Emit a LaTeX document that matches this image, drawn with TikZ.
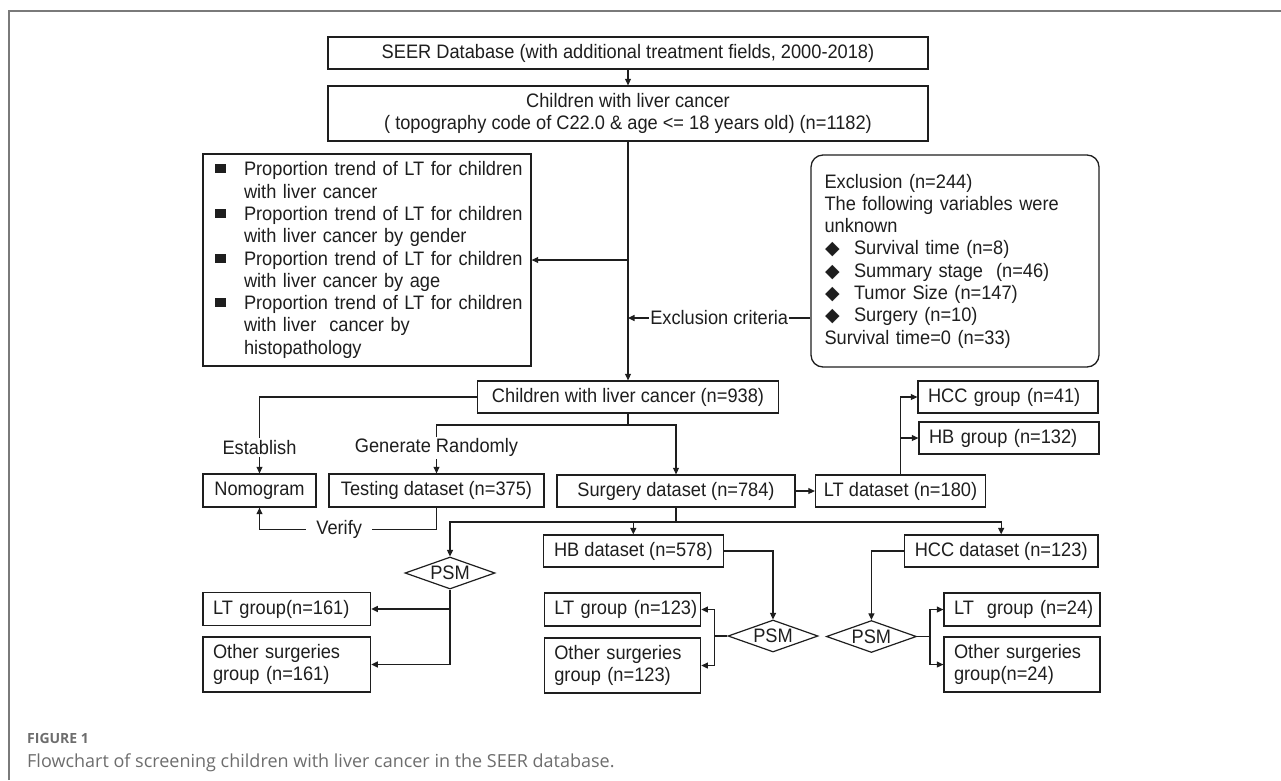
\documentclass[tikz,border=0pt]{standalone}
\usepackage{fontspec}
\setmainfont{Liberation Sans}[FakeStretch=0.935]
\newfontfamily\capfont{Open Sans}
\newfontfamily\djv{DejaVu Sans}
\usetikzlibrary{shapes.geometric,arrows.meta}
\definecolor{capgray}{HTML}{6D6D6D}
\definecolor{framegray}{HTML}{7A7A7A}
\definecolor{ink}{HTML}{1E1E1E}
\newcommand\bsq{\makebox[29pt][l]{\raisebox{2.5pt}{\rule{10.5pt}{9pt}}}}
\newcommand\ind{\hspace*{29pt}}
\newcommand\dia{\makebox[29.5pt][l]{\hspace{0.5pt}{\djv\fontsize{19}{19}\selectfont ◆}}}
\begin{document}
\begin{tikzpicture}[x=1pt,y=-1pt,
  every node/.style={font=\fontsize{19.5}{22.3}\selectfont, text=ink},
  box/.style={draw=ink, line width=1.3pt, inner sep=0pt, minimum height=32pt},
  lbox/.style={box, align=left, inner xsep=10pt, inner ysep=0pt},
  psm/.style={draw=ink, line width=1.2pt, diamond, shape aspect=2.8, minimum width=90pt, minimum height=32pt, inner sep=0pt},
  ln/.style={draw=ink, line width=1.1pt},
  arr/.style={draw=ink, line width=1.1pt, -{Triangle[length=6.5pt,width=6pt]}},
  lab/.style={fill=white, inner ysep=2pt, inner xsep=1pt}]
\useasboundingbox (0,0) rectangle (1281,780);
\draw[framegray, line width=1.2pt] (9,780) -- (9,11) -- (1281,11);

% boxes
\node[box, minimum width=600pt] (seer) at (628,53) {SEER Database (with additional treatment fields, 2000-2018)};
\node[box, minimum width=600pt, minimum height=55pt, align=center] (child) at (628,113.5) {Children with liver cancer\\( topography code of C22.0 \& age <= 18 years old) (n=1182)};
\node[box, minimum height=212pt, text width=304pt, inner xsep=12pt, align=left] (blt) at (367,260) {%
\mbox{\bsq Proportion trend of LT for children}\\
\mbox{\ind with liver cancer}\\
\mbox{\bsq Proportion trend of LT for children}\\
\mbox{\ind with liver cancer by gender}\\
\mbox{\bsq Proportion trend of LT for children}\\
\mbox{\ind with liver cancer by age}\\
\mbox{\bsq Proportion trend of LT for children}\\
\mbox{\ind with liver\ \ cancer by}\\
\mbox{\ind histopathology}};
\node[box, rounded corners=12pt, minimum height=212pt, text width=261pt, inner xsep=13.5pt, align=left] (excl) at (955,261) {%
\mbox{Exclusion (n=244)}\\
\mbox{The following variables were}\\
\mbox{unknown}\\
\mbox{\dia Survival time (n=8)}\\
\mbox{\dia Summary stage\ \ (n=46)}\\
\mbox{\dia Tumor Size (n=147)}\\
\mbox{\dia Surgery (n=10)}\\
\mbox{Survival time=0 (n=33)}};
\node[box, minimum width=301pt] (c938) at (628,397) {Children with liver cancer (n=938)};
\node[lbox, text width=160pt] (hccg) at (1008,397) {\mbox{HCC group (n=41)}};
\node[lbox, text width=160pt] (hbg) at (1009,438) {\mbox{HB group (n=132)}};
\node[box, minimum width=113pt, minimum height=33pt] (nomo) at (259.5,490.5) {Nomogram};
\node[box, minimum width=215pt, minimum height=33pt] (test) at (436.5,490.5) {Testing dataset (n=375)};
\node[box, minimum width=238pt] (surg) at (676,491) {Surgery dataset (n=784)};
\node[box, minimum width=170pt] (ltd) at (900.5,491) {LT dataset (n=180)};
\node[box, minimum width=180pt] (hbd) at (633.3,551) {HB dataset (n=578)};
\node[box, minimum width=193.5pt] (hccd) at (1001.2,551) {HCC dataset (n=123)};
\node[psm] (psm1) at (450,573) {PSM};
\node[psm] (psm2) at (773,636) {PSM};
\node[psm] (psm3) at (871.4,636.5) {PSM};
\node[lbox, text width=147.6pt, minimum height=33pt] (lt161) at (286.8,609) {\mbox{LT group(n=161)}};
\node[lbox, text width=147.6pt, minimum height=55pt] (ot161) at (286.8,664.5) {\mbox{Other surgeries}\\\mbox{group (n=161)}};
\node[lbox, text width=136.4pt, minimum height=33pt] (lt123) at (622.5,609.5) {\mbox{LT group (n=123)}};
\node[lbox, text width=136.4pt, minimum height=55pt] (ot123) at (622.5,665.5) {\mbox{Other surgeries}\\\mbox{group (n=123)}};
\node[lbox, text width=136pt, minimum height=33pt] (lt24) at (1022,609.5) {\mbox{LT\ \ group (n=24)}};
\node[lbox, text width=136pt, minimum height=55pt] (ot24) at (1022,664.5) {\mbox{Other surgeries}\\\mbox{group(n=24)}};

% connectors
\draw[arr] (seer.south) -- (child.north);
\draw[arr] (child.south) -- (c938.north);
\coordinate (jb) at (628,260);
\draw[arr] (jb) -- (blt.east);
\coordinate (je) at (628,318);
\draw[arr] (excl.west |- je) -- node[lab]{Exclusion criteria} (je);
\coordinate (jc) at (628,425);
\draw[ln] (c938.south) -- (jc);
\draw[arr] (jc) -| node[pos=0.735, lab]{Generate Randomly} (test.north);
\draw[arr] (jc) -| (surg.north);
\draw[arr] (c938.west) -| node[pos=0.83, lab]{Establish} (nomo.north);
\coordinate (v1) at (436.5,529.3);
\coordinate (v2) at (259.5,529.3);
\draw[arr] (test.south) -- (v1) -- node[pos=0.55, lab, inner xsep=10pt]{Verify} (v2) -- (nomo.south);
\draw[arr] (surg.east) -- (ltd.west);
\draw[arr] (ltd.north) |- (hccg.west);
\draw[arr] (ltd.north |- hbg.west) -- (hbg.west);
\coordinate (js) at (676,522);
\draw[ln] (surg.south) -- (js);
\draw[arr] (js) -| (psm1.north);
\draw[arr] (js) -| (hccd.north);
\draw[arr] (hbd.north |- js) -- (hbd.north);
\draw[arr] (hbd.east) -| (psm2.north);
\draw[arr] (hccd.west) -| (psm3.north);
\draw[arr] (psm1.south) |- (ot161.east);
\draw[arr] (psm1.south |- lt161.east) -- (lt161.east);
\coordinate (b2) at (714.3,636);
\draw[ln] (psm2.west) -- (b2);
\draw[arr] (b2) |- (lt123.east);
\draw[arr] (b2) |- (ot123.east);
\coordinate (b3) at (930,636.5);
\draw[ln] (psm3.east) -- (b3);
\draw[arr] (b3) |- (lt24.west);
\draw[arr] (b3) |- (ot24.west);

% caption
\node[anchor=base west, font=\capfont\bfseries\fontsize{14}{17}\selectfont, text=capgray, inner sep=0pt] (fig) at (27,743) {FIGURE 1};
\node[anchor=base west, font=\capfont\fontsize{18}{22}\selectfont, text=capgray, inner sep=0pt] (cap) at (27,767) {Flowchart of screening children with liver cancer in the SEER database.};
\end{tikzpicture}
\end{document}
